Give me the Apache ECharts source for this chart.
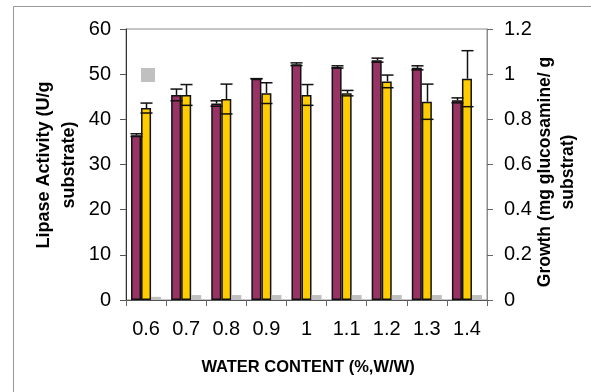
<!DOCTYPE html>
<html>
<head>
<meta charset="utf-8">
<script src="https://cdn.jsdelivr.net/npm/echarts@6/dist/echarts.min.js"></script>
<style>html,body{margin:0;padding:0;background:#fff}#c{width:591px;height:392px}</style>
</head>
<body>
<div id="c"></div>
<script>
var categories = ['0.6', '0.7', '0.8', '0.9', '1', '1.1', '1.2', '1.3', '1.4'];
var lipase = [36.5, 45.4, 43.5, 49.0, 52.2, 51.6, 53.1, 51.4, 44.2];
var lipaseErr = [0.3, 1.3, 0.6, 0, 0.3, 0.25, 0.45, 0.45, 0.55];
var growth = [0.85, 0.908, 0.89, 0.916, 0.908, 0.916, 0.968, 0.878, 0.98];
var growthErr = [0.022, 0.046, 0.066, 0.046, 0.046, 0.012, 0.028, 0.078, 0.124];
var third = [0.7, 1.1, 1.1, 1.1, 1.1, 1.1, 1.1, 1.1, 1.1];
var leftTicks = {min: 0, max: 60, interval: 10};
var rightTicks = {min: 0, max: 1.2, interval: 0.2};

var FONT = '"Liberation Sans", Arial, sans-serif';

function errRender(offsetFrac) {
  return function (params, api) {
    var i = api.value(0), v = api.value(1), e = api.value(2);
    var bw = api.size([1, 0])[0];
    var c = api.coord([i, v]);
    var t = api.coord([i, v + e]);
    var b = api.coord([i, v - e]);
    var x = Math.round(c[0] + offsetFrac * bw) + 0.5;
    var h = bw * 0.15;
    var st = {stroke: '#111', lineWidth: 1.5};
    return {
      type: 'group',
      children: [
        {type: 'line', shape: {x1: x, y1: t[1], x2: x, y2: c[1]}, style: st},
        {type: 'line', shape: {x1: x - h, y1: t[1], x2: x + h, y2: t[1]}, style: st},
        {type: 'line', shape: {x1: x - h, y1: b[1], x2: x + h, y2: b[1]}, style: st}
      ]
    };
  };
}

var chart = echarts.init(document.getElementById('c'), null, {renderer: 'canvas'});
chart.setOption({
  animation: false,
  backgroundColor: '#fff',
  grid: {left: 126, right: 104, top: 29, bottom: 92, show: true, borderColor: '#8c8c8c', borderWidth: 1},
  legend: {
    data: ['Series3'], left: 141, top: 68, padding: 0, itemWidth: 14, itemHeight: 14, icon: 'rect',
    selectedMode: false, formatter: function () { return ''; }, textStyle: {fontSize: 1}
  },
  xAxis: {
    type: 'category', data: categories,
    axisLine: {lineStyle: {color: '#555', width: 1}},
    axisTick: {show: true, length: 6, lineStyle: {color: '#666'}},
    axisLabel: {color: '#000', fontSize: 20, fontFamily: 'Liberation Sans', margin: 19}
  },
  yAxis: [
    {
      type: 'value', min: leftTicks.min, max: leftTicks.max, interval: leftTicks.interval,
      splitLine: {show: false},
      axisLine: {show: true, lineStyle: {color: '#333', width: 1}},
      axisTick: {show: true, length: 6, lineStyle: {color: '#555'}},
      axisLabel: {color: '#000', fontSize: 20, fontFamily: 'Liberation Sans', margin: 15}
    },
    {
      type: 'value', min: rightTicks.min, max: rightTicks.max, interval: rightTicks.interval,
      position: 'right', splitLine: {show: false},
      axisLine: {show: true, lineStyle: {color: '#8c8c8c', width: 1}},
      axisTick: {show: true, length: 6, lineStyle: {color: '#666'}},
      axisLabel: {color: '#000', fontSize: 20, fontFamily: 'Liberation Sans', margin: 17}
    }
  ],
  series: [
    {
      name: 'Lipase', type: 'bar', yAxisIndex: 0, data: lipase, barWidth: '25%', barGap: '0%',
      itemStyle: {color: '#993366', borderColor: '#111', borderWidth: 1.5}
    },
    {
      name: 'Growth', type: 'bar', yAxisIndex: 1, data: growth, barWidth: '25%', barGap: '0%',
      itemStyle: {color: '#FFCC00', borderColor: '#111', borderWidth: 1.5}
    },
    {
      name: 'Series3', type: 'bar', yAxisIndex: 0, data: third, barWidth: '25%', barGap: '0%',
      itemStyle: {color: '#C0C0C0'}
    },
    {
      name: 'LipaseErr', type: 'custom', yAxisIndex: 0, z: 5,
      data: lipase.map(function (v, i) { return [i, v, lipaseErr[i]]; }),
      encode: {x: 0, y: 1}, renderItem: errRender(-0.25)
    },
    {
      name: 'GrowthErr', type: 'custom', yAxisIndex: 1, z: 5,
      data: growth.map(function (v, i) { return [i, v, growthErr[i]]; }),
      encode: {x: 0, y: 1}, renderItem: errRender(0)
    }
  ],
  graphic: [
    {type: 'line', shape: {x1: 13.5, y1: 6.5, x2: 591, y2: 6.5}, style: {stroke: '#999', lineWidth: 1}},
    {type: 'line', shape: {x1: 13.5, y1: 6.5, x2: 13.5, y2: 392}, style: {stroke: '#999', lineWidth: 1}},
    {
      type: 'text', x: 57, y: 165, rotation: Math.PI / 2,
      style: {text: 'Lipase Activity (U/g\nsubstrate)', textAlign: 'center', textVerticalAlign: 'middle',
        font: 'bold 18px ' + FONT, fill: '#000', lineHeight: 25}
    },
    {
      type: 'text', x: 557, y: 172, rotation: Math.PI / 2,
      style: {text: 'Growth (mg glucosamine/ g\nsubstrat)', textAlign: 'center', textVerticalAlign: 'middle',
        font: 'bold 17.5px ' + FONT, fill: '#000', lineHeight: 23}
    },
    {
      type: 'text', x: 308, y: 367,
      style: {text: 'WATER CONTENT (%,W/W)', textAlign: 'center', textVerticalAlign: 'middle',
        font: 'bold 16.5px ' + FONT, fill: '#000'}
    }
  ]
});
</script>
</body>
</html>
